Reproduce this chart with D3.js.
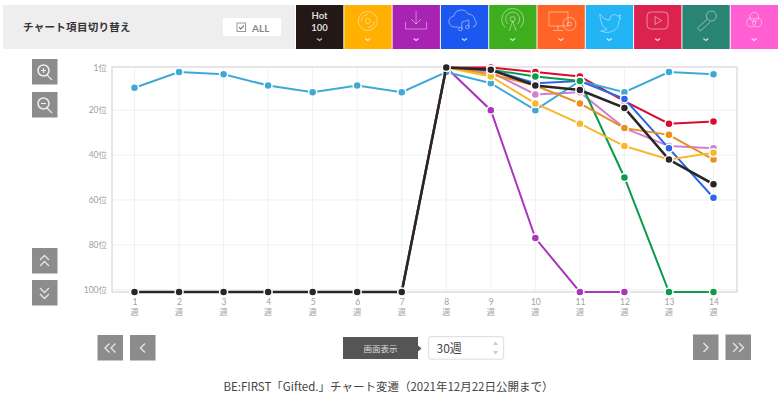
<!DOCTYPE html>
<html>
<head>
<meta charset="utf-8">
<script src="https://cdn.jsdelivr.net/npm/d3@7"></script>
<style>
  html, body { margin: 0; padding: 0; background: #fff; }
  svg { display: block; }
  text { font-family: "Noto Sans CJK JP", "Noto Sans", sans-serif; }
  .grid line { stroke: #f0f0f0; }
  .axis path, .axis line { display: none; }
  .axis text { fill: #a0a0a0; font-size: 8.5px; font-family: Lato, "Noto Sans CJK JP", sans-serif; }
  .unit { fill: #a0a0a0; font-size: 8px; }
</style>
</head>
<body>
<svg id="chart" width="780" height="400"></svg>
<script>
// chart values (101 = out of chart, drawn under the 100 line)
var weeks = [1,2,3,4,5,6,7,8,9,10,11,12,13,14];
var rankTicks = [1,20,40,60,80,100];

var download = [101,101,101,101,101,101,101,1,20,77,101,101];
var radio    = [101,101,101,101,101,101,101,1,1,3,5,16,26,25];
var video    = [101,101,101,101,101,101,101,1,3,13,12,28,36,37];
var twitter  = [10,3,4,9,12,9,12,3,8,20,7,12,3,4];
var stream   = [101,101,101,101,101,101,101,1,2,8,7,15,37,59];
var lookup   = [101,101,101,101,101,101,101,1,2,5,7,50,101,101];
var karaoke  = [101,101,101,101,101,101,101,1,4,9,17,28,31,42];
var cd       = [101,101,101,101,101,101,101,1,5,17,26,36,42,39];
var hot100   = [101,101,101,101,101,101,101,1,2,9,11,19,42,53];

// back to front
var seriesNames = ["download","radio","video","twitter","stream","lookup","karaoke","cd","hot100"];
var seriesValues = [download,radio,video,twitter,stream,lookup,karaoke,cd,hot100];
var seriesColors = ["#a936bb","#d9092f","#cf7fd3","#3fa9d6","#2b66e8","#0d9a4a","#e98f1c","#f6b82c","#2a2627"];

var tabLabels = ["hot","cd","download","stream","radio","pc","twitter","video","karaoke","mix"];
var tabColors = ["#231815","#ffb000","#a822b4","#1c58f0","#3fae1e","#ff6326","#22b4f5","#dc2350","#2a8473","#ff5fd2"];

var svg = d3.select("#chart");

// ---- top bar
svg.append("rect").attr("x",3).attr("y",5).attr("width",292).attr("height",44).attr("fill","#eeeeee");
svg.append("text").attr("x",23).attr("y",31).attr("font-size",10.5).attr("font-weight",700)
   .attr("fill","#333").attr("letter-spacing",0.3).text("チャート項目切り替え");
svg.append("rect").attr("x",223).attr("y",18).attr("width",58).attr("height",18).attr("fill","#fff");
svg.append("rect").attr("x",237).attr("y",23).attr("width",8.5).attr("height",8.5)
   .attr("fill","#fff").attr("stroke","#999");
svg.append("path").attr("d","M239 27l1.8 2 3-3.4").attr("fill","none").attr("stroke","#666").attr("stroke-width",1.1);
svg.append("text").attr("x",252).attr("y",31.5).attr("font-size",10).attr("font-weight",700)
   .style("font-family","Lato").attr("fill","#888").text("ALL");

var tabX = d3.scaleBand().domain(tabLabels).range([296,778]).paddingInner(0.02);

var tabs = svg.selectAll(".tab").data(tabLabels).enter().append("g")
   .attr("class","tab")
   .attr("transform", function(d){ return "translate("+tabX(d)+",5)"; });
tabs.append("rect").attr("width",tabX.bandwidth()).attr("height",44)
   .attr("fill", function(d,i){ return tabColors[i]; });
// little chevron under each icon
tabs.append("path").attr("d","M21 33.5l2.5 2 2.5-2").attr("fill","none")
   .attr("stroke-width",1.2).attr("stroke","rgba(255,255,255,.75)");

function tabG(name){
  return tabs.filter(function(d){ return d==name; }).append("g")
     .attr("fill","none").attr("stroke","rgba(255,255,255,.5)").attr("stroke-width",0.9);
}

var hotTab = tabs.filter(function(d){ return d=="hot"; });
hotTab.append("text").attr("x",23.5).attr("y",14).attr("text-anchor","middle").attr("font-size",9.5)
   .style("font-family","Lato").attr("font-weight",700).attr("fill","#ddd").text("Hot");
hotTab.append("text").attr("x",23.5).attr("y",26).attr("text-anchor","middle").attr("font-size",9.5)
   .style("font-family","Lato").attr("font-weight",700).attr("fill","#ddd").text("100");

var g = tabG("cd");
g.append("circle").attr("cx",23.5).attr("cy",16).attr("r",9.5);
g.append("circle").attr("cx",23.5).attr("cy",16).attr("r",2.5);
g.append("path").attr("d","M17 16a6.5 6.5 0 0 1 6.5-6.5M30 16a6.5 6.5 0 0 1-6.5 6.5");

g = tabG("download");
g.append("path").attr("d","M13 17v7h21v-7M23.5 6v13M18.5 14l5 5 5-5");

g = tabG("stream");
g.append("path").attr("d","M18 22h-4a5.500 5.500 0 0 1-1-11 7.500 7.500 0 0 1 14-2 6.500 6.500 0 0 1 7 6 4 4 0 0 1-2 7");
g.append("path").attr("d","M21 24v-7l7-2v7");
g.append("circle").attr("cx",19.500).attr("cy",24).attr("r",1.800);
g.append("circle").attr("cx",26.500).attr("cy",22).attr("r",1.800);

g = tabG("radio");
g.append("circle").attr("cx",23.5).attr("cy",14).attr("r",2.500);
g.append("path").attr("d","M18.500 19a7 7 0 1 1 10 0M16 22.500a11 11 0 1 1 15 0M20 26l3.500-10 3.500 10");

g = tabG("pc");
g.append("rect").attr("x",11.5).attr("y",7).attr("width",19).attr("height",14);
g.append("path").attr("d","M20.500 21v4M15.500 25.500h10");
g.append("circle").attr("cx",32).attr("cy",19).attr("r",6.500);
g.append("circle").attr("cx",32).attr("cy",19).attr("r",2);

g = tabG("twitter");
g.append("path").attr("d","M14 9c3 4 6 6 10 6 0-5 5-7 8-4l3-1-2 3 2 0c-1 2-2 2-2 4 0 8-9 13-18 9 3 0 5-1 6-2-4-1-6-6-7-15z");

g = tabG("video");
g.append("rect").attr("x",13).attr("y",7).attr("width",21).attr("height",17).attr("rx",4);
g.append("path").attr("d","M21 11.500v8l6.500-4z");

g = tabG("karaoke");
g.append("circle").attr("cx",29).attr("cy",11).attr("r",5);
g.append("path").attr("d","M25 14l-10 9 3 3 10-9");

g = tabG("mix");
g.append("circle").attr("cx",23.500).attr("cy",12).attr("r",4.500);
g.append("circle").attr("cx",20.500).attr("cy",17.500).attr("r",4.500);
g.append("circle").attr("cx",26.500).attr("cy",17.500).attr("r",4.500);

// ---- plot
var x = d3.scalePoint().domain(weeks).range([134.5,713.5]);
var y = d3.scaleLinear().domain([1,101]).range([67.5,292]);
var plot = {left:112, right:737, top:67, bottom:292};

var grid = svg.append("g").attr("class","grid");
grid.selectAll(".gx").data(weeks).enter().append("line")
   .attr("x1",function(d){ return x(d); }).attr("x2",function(d){ return x(d); })
   .attr("y1",plot.top).attr("y2",plot.bottom);
grid.selectAll(".gy").data(rankTicks.slice(1)).enter().append("line")
   .attr("x1",plot.left).attr("x2",plot.right)
   .attr("y1",function(d){ return y(d); }).attr("y2",function(d){ return y(d); });
svg.append("rect").attr("x",plot.left).attr("y",plot.top)
   .attr("width",plot.right-plot.left).attr("height",plot.bottom-plot.top)
   .attr("fill","none").attr("stroke","#d6d6d6").attr("stroke-width",1.2);

svg.append("g").attr("class","axis").attr("transform","translate("+(plot.left-1)+",0)")
   .call(d3.axisLeft(y).tickValues(rankTicks).tickSize(0).tickPadding(4)
   .tickFormat(function(d){ return d+"位"; }));

svg.append("g").attr("class","axis").attr("transform","translate(0,"+plot.bottom+")")
   .call(d3.axisBottom(x).tickSize(0).tickPadding(7));
// the 週 under each week number
svg.selectAll(".unit").data(weeks).enter().append("text")
   .attr("class","unit")
   .attr("x",function(d){ return x(d); })
   .attr("y",plot.bottom+23)
   .attr("text-anchor","middle")
   .text("週");

var line = d3.line()
   .x(function(d,i){ return x(weeks[i]); })
   .y(function(d){ return y(d); });

var series = svg.selectAll(".series").data(seriesValues).enter().append("g").attr("class","series");
series.append("path")
   .attr("d", function(d){ return line(d); })
   .attr("fill","none")
   .attr("stroke", function(d,i){ return seriesColors[i]; })
   // hot100 a bit wider so the lines stacked under it do not fringe its edges
   .attr("stroke-width", function(d,i){ return seriesNames[i]=="hot100" ? 2.6 : 2; });
series.each(function(vals,i){
   d3.select(this).selectAll("circle").data(vals).enter().append("circle")
     .attr("cx", function(d,j){ return x(weeks[j]); })
     .attr("cy", function(d){ return y(d); })
     .attr("r",4)
     .attr("fill", seriesColors[i])
     .attr("stroke","#fff").attr("stroke-width",1.5);
});

// ---- buttons
var btnData = [
  {x:32,y:59,w:25.5,kind:"zoomin"},
  {x:32,y:92,w:25.5,kind:"zoomout"},
  {x:32,y:248,w:25.5,kind:"up2"},
  {x:32,y:280,w:25.5,kind:"down2"},
  {x:97.500,y:335,w:25.500,kind:"left2"},
  {x:130,y:335,w:25.500,kind:"left1"},
  {x:693,y:334.500,w:25.500,kind:"right1"},
  {x:725.500,y:334.500,w:25.500,kind:"right2"}
];
var glyphs = {
  up2:"M8 12l4.500-4.500 4.500 4.500M8 18l4.500-4.500 4.500 4.500",
  down2:"M8 8l4.500 4.500 4.500-4.500M8 14l4.500 4.500 4.500-4.500",
  left2:"M12 8.500l-4.500 4.500 4.500 4.500M18 8.500l-4.500 4.500 4.500 4.500",
  left1:"M15 8.500l-4.500 4.500 4.500 4.500",
  right1:"M10.500 8.500l4.500 4.500-4.500 4.500",
  right2:"M7.500 8.500l4.500 4.500-4.500 4.500M13.500 8.500l4.500 4.500-4.500 4.500"
};
var btns = svg.selectAll(".btn").data(btnData).enter().append("g")
   .attr("class","btn")
   .attr("transform", function(d){ return "translate("+d.x+","+d.y+")"; });
btns.append("rect").attr("width",function(d){ return d.w; }).attr("height",25.5).attr("fill","#8c8c8c");
btns.append("path").attr("fill","none").attr("stroke","#e4e4e4").attr("stroke-width",1.4)
   .attr("d", function(d){ return glyphs[d.kind] || "M15 16l5 5"; });
var lens = btns.filter(function(d){ return d.kind.indexOf("zoom")==0; });
lens.append("circle").attr("cx",11.500).attr("cy",11.500).attr("r",5.500)
   .attr("fill","none").attr("stroke","#eee").attr("stroke-width",1.5);
lens.append("path").attr("stroke","#eee").attr("stroke-width",1.1)
   .attr("d", function(d){ return d.kind=="zoomin" ? "M9 11.500h5M11.500 9v5" : "M9 11.500h5"; });

// ---- range selector
svg.append("path").attr("d","M343 337h75v8.500l3.500 3-3.500 3v7.500h-75z").attr("fill","#555");
svg.append("text").attr("x",380.500).attr("y",351.500).attr("text-anchor","middle").attr("font-size",8.500)
   .attr("fill","#ddd").text("画面表示");
svg.append("rect").attr("x",428.700).attr("y",336.700).attr("width",75).attr("height",22.500).attr("rx",2)
   .attr("fill","#fff").attr("stroke","#dcdcdc");
svg.append("text").attr("x",436.500).attr("y",352.500).attr("font-size",12).attr("fill","#444").text("30週");
svg.append("path").attr("d","M493 345l2.500-3.500 2.500 3.500zM493 351l2.500 3.500 2.500-3.500z").attr("fill","#ccc");

// ---- caption
svg.append("text").attr("x",388.500).attr("y",391).attr("text-anchor","middle").attr("font-size",11.500)
   .attr("fill","#444").text("BE:FIRST「Gifted.」チャート変遷（2021年12月22日公開まで）");
</script>
</body>
</html>
